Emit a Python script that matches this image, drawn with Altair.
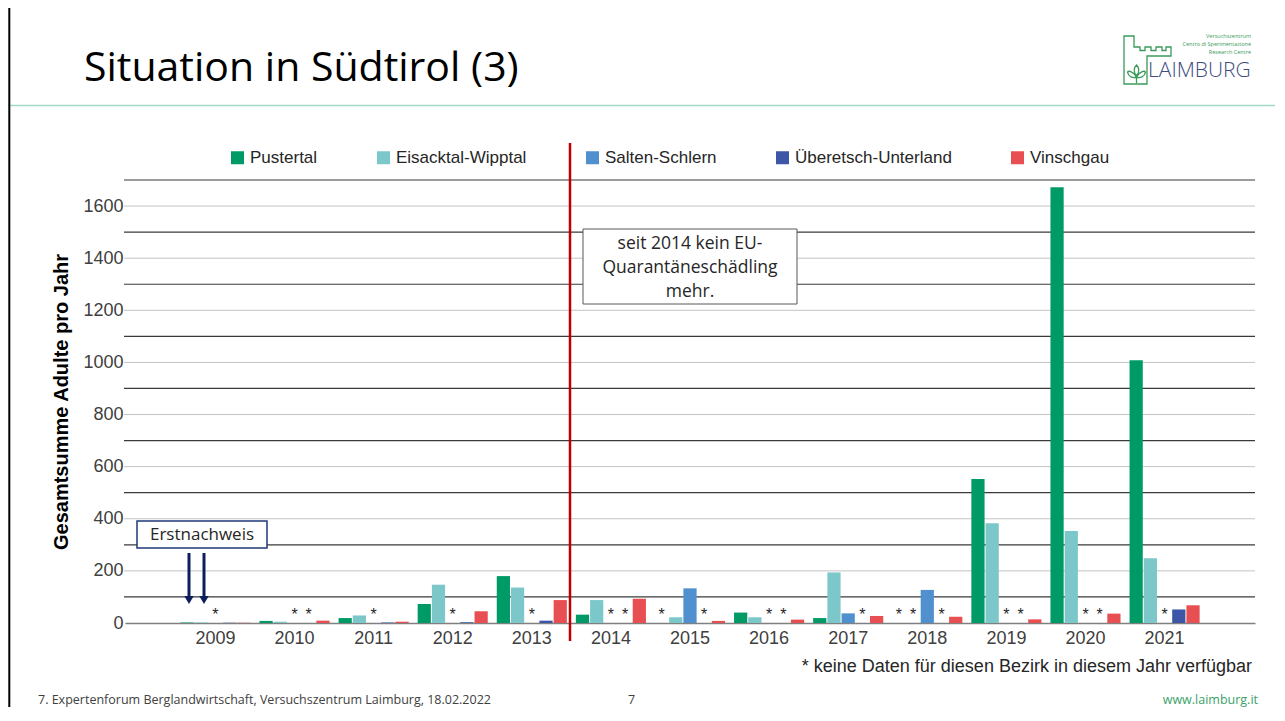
import altair as alt
import pandas as pd

# ---------------- data ----------------
years = ["2009", "2010", "2011", "2012", "2013", "2014", "2015",
         "2016", "2017", "2018", "2019", "2020", "2021"]
districts = ["Pustertal", "Eisacktal-Wipptal", "Salten-Schlern",
             "Überetsch-Unterland", "Vinschgau"]
colors = ["#009a66", "#7cc7c9", "#5190cf", "#3d57a6", "#e84f52"]

# None = "keine Daten" (shown as *)
pustertal = [2, 8, 19, 73, 180, 32, None, 40, 19, None, 553, 1672, 1008]
eisacktal = [2, 5, 29, 147, 136, 88, 22, 22, 194, None, 383, 353, 248]
salten = [None, None, None, None, None, None, 133, None, 37, 127, None, None, None]
ueberetsch = [1, None, 2, 3, 9, None, None, None, None, None, None, None, 52]
vinschgau = [1, 9, 5, 45, 88, 93, 8, 13, 27, 24, 14, 36, 68]

y_ticks = list(range(0, 1800, 100))

series = [pustertal, eisacktal, salten, ueberetsch, vinschgau]
rows = []
for d, vals in zip(districts, series):
    for yr, v in zip(years, vals):
        rows.append({"year": yr, "district": d, "value": v})
df = pd.DataFrame(rows)
grid_df = pd.DataFrame({"v": y_ticks[1:]})

W, H = 1130, 443
one = pd.DataFrame({"k": [0]})

y_scale = alt.Scale(domain=[0, 1700], nice=False)
y_axis = alt.Axis(values=y_ticks, format="d",
                  labelExpr="datum.value % 200 === 0 ? datum.label : ''",
                  labelOverlap=False, labelFont="Liberation Sans", labelFontSize=18,
                  labelColor="#404040", labelPadding=2, ticks=False, domain=False,
                  grid=False,
                  title="Gesamtsumme Adulte pro Jahr", titleFont="Liberation Sans",
                  titleFontSize=20, titleFontWeight="bold", titleColor="#000000",
                  titlePadding=11)

x_enc = alt.X("year:O", title=None, sort=years,
              scale=alt.Scale(paddingInner=0.114, paddingOuter=0.70),
              axis=alt.Axis(labelAngle=0, labelFont="Liberation Sans", labelFontSize=18,
                            labelColor="#404040", labelPadding=6, ticks=False,
                            domainColor="#808080", domainWidth=1.5, grid=False))
xo_enc = alt.XOffset("district:N", sort=districts,
                     scale=alt.Scale(domain=districts, paddingInner=0.07, paddingOuter=0))

grid = alt.Chart(grid_df).mark_rule().encode(
    y=alt.Y("v:Q", scale=y_scale, axis=y_axis),
    x=alt.value(-1), x2=alt.value(W),
    color=alt.condition("datum.v % 200 === 0", alt.value("#c3c3c3"), alt.value("#3a3a3a")),
    strokeWidth=alt.condition("datum.v % 200 === 0", alt.value(1), alt.value(1.2)),
)

bars = alt.Chart(df).mark_bar().transform_filter("isValid(datum.value)").encode(
    x=x_enc,
    xOffset=xo_enc,
    y=alt.Y("value:Q", scale=y_scale, axis=y_axis),
    color=alt.Color("district:N", sort=districts,
                    scale=alt.Scale(domain=districts, range=colors),
                    legend=alt.Legend(orient="none", legendX=104, legendY=-31,
                                      direction="horizontal", title=None,
                                      symbolType="square", symbolSize=169,
                                      symbolStrokeWidth=0, labelFont="Liberation Sans",
                                      labelFontSize=17, labelColor="#262626",
                                      columnPadding=57, labelOffset=4)),
)

stars = alt.Chart(df).mark_text(text="*", font="Liberation Sans", fontSize=16,
                                color="#262626", baseline="alphabetic", dy=-3).transform_filter(
    "!isValid(datum.value)").encode(
    x=alt.X("year:O", sort=years),
    xOffset=alt.XOffset("district:N", sort=districts),
    y=alt.datum(0),
)


def txt(t, x, y, **kw):
    return alt.Chart(one).mark_text(text=t, **kw).encode(x=alt.value(x), y=alt.value(y))


def rule(x, x2, y, y2, **kw):
    return alt.Chart(one).mark_rule(**kw).encode(
        x=alt.value(x), x2=alt.value(x2), y=alt.value(y), y2=alt.value(y2))


def box(x, x2, y, y2, **kw):
    return alt.Chart(one).mark_rect(**kw).encode(
        x=alt.value(x), x2=alt.value(x2), y=alt.value(y), y2=alt.value(y2))


# red separation line 2013 | 2014
red_line = rule(445, 445, -37, 461, color="#c00000", strokeWidth=2.5)

# annotation boxes
q_box = box(458, 672, 49, 124, fill="white", stroke="#595959", strokeWidth=1)
q_txt = txt(["seit 2014 kein EU-", "Quarantäneschädling", "mehr."], 565, 64,
            font="Open Sans", fontSize=17.5, color="#262626", align="center",
            baseline="middle", lineHeight=24)
e_box = box(12, 142, 341, 368, fill="white", stroke="#1f3a7a", strokeWidth=1.5)
e_txt = txt("Erstnachweis", 77, 355, font="Open Sans", fontSize=17, color="#262626",
            align="center", baseline="middle")
arrow1 = rule(64, 64, 373, 416, color="#0c1f5c", strokeWidth=3)
arrow2 = rule(79, 79, 373, 416, color="#0c1f5c", strokeWidth=3)
head1 = alt.Chart(one).mark_point(shape="triangle-down", filled=True, size=90,
                                  color="#0c1f5c", opacity=1).encode(
    x=alt.value(64), y=alt.value(420))
head2 = alt.Chart(one).mark_point(shape="triangle-down", filled=True, size=90,
                                  color="#0c1f5c", opacity=1).encode(
    x=alt.value(79), y=alt.value(420))

footnote = txt("* keine Daten für diesen Bezirk in diesem Jahr verfügbar", 1127, 492,
               font="Liberation Sans", fontSize=18, color="#262626", align="right",
               baseline="alphabetic")

# slide decoration
title = txt("Situation in Südtirol (3)", -41, -99, font="Open Sans", fontSize=41,
            color="#000000", align="left", baseline="alphabetic")
teal_line = rule(-117, 1152, -74.5, -74.5, color="#a3d8c6", strokeWidth=1.5)
left_border = rule(-115.7, -115.7, -172, 530, color="#000000", strokeWidth=2)
footer1 = txt("7. Expertenforum Berglandwirtschaft, Versuchszentrum Laimburg, 18.02.2022",
              -87, 524, font="Open Sans", fontSize=12.5, color="#404040", align="left",
              baseline="alphabetic")
footer2 = txt("7", 503, 524, font="Open Sans", fontSize=12.5, color="#404040",
              align="left", baseline="alphabetic")
footer3 = txt("www.laimburg.it", 1133, 524, font="Open Sans", fontSize=12.5,
              color="#3aa36a", align="right", baseline="alphabetic")

# logo
logo_txt = txt("LAIMBURG", 1023, -103, font="Open Sans", fontSize=21, fontWeight=300,
               color="#3d4b7f", align="left", baseline="alphabetic")
logo_s1 = txt("Versuchszentrum", 1126, -144, font="Open Sans", fontSize=5.5,
              color="#3a9a5a", align="right", baseline="middle")
logo_s2 = txt("Centro di Sperimentazione", 1126, -136, font="Open Sans", fontSize=5.5,
              color="#3a9a5a", align="right", baseline="middle")
logo_s3 = txt("Research Centre", 1126, -128, font="Open Sans", fontSize=5.5,
              color="#3a9a5a", align="right", baseline="middle")
castle_path = ("M-0.979,1 L-0.979,-1 L-0.5625,-1 L-0.5625,-0.542 L-0.3125,-0.542 "
               "L-0.3125,-0.396 L-0.104,-0.396 L-0.104,-0.542 L0.146,-0.542 L0.146,-0.396 "
               "L0.354,-0.396 L0.354,-0.542 L0.604,-0.542 L0.604,-0.396 L0.771,-0.396 "
               "L0.771,-0.542 L0.979,-0.542 L0.979,-0.167 L-0.021,-0.167 L-0.021,1 Z")
castle = alt.Chart(one).mark_point(shape=castle_path, filled=False, size=2304,
                                   stroke="#3a9a5a", strokeWidth=1.3, opacity=1).encode(
    x=alt.value(1022.5), y=alt.value(-120))
leaf_path = ("M0,0.2 C-0.45,-0.3 -0.2,-0.8 0,-1 C0.2,-0.8 0.45,-0.3 0,0.2 Z "
             "M0,0.35 C-0.3,-0.3 -0.9,-0.4 -1,-0.2 C-0.9,0.3 -0.4,0.5 0,0.35 Z "
             "M0,0.35 C0.3,-0.3 0.9,-0.4 1,-0.2 C0.9,0.3 0.4,0.5 0,0.35 Z "
             "M0,0.35 L0,1")
leaf = alt.Chart(one).mark_point(shape=leaf_path, filled=False, size=324,
                                 stroke="#3a9a5a", strokeWidth=1.3, opacity=1).encode(
    x=alt.value(1011.5), y=alt.value(-106))

chart = alt.layer(
    grid, bars, stars, red_line, q_box, q_txt, e_box, e_txt, arrow1, arrow2, head1, head2,
    footnote, title, teal_line, left_border, footer1, footer2, footer3,
    logo_txt, logo_s1, logo_s2, logo_s3, castle, leaf,
).properties(
    width=W, height=H,
    autosize=alt.AutoSizeParams(type="none"),
    padding={"left": 117, "top": 172, "right": 20, "bottom": 84},
    background="white",
).configure_view(stroke=None)

chart.save("out.html", embed_options={"renderer": "svg", "actions": False})
